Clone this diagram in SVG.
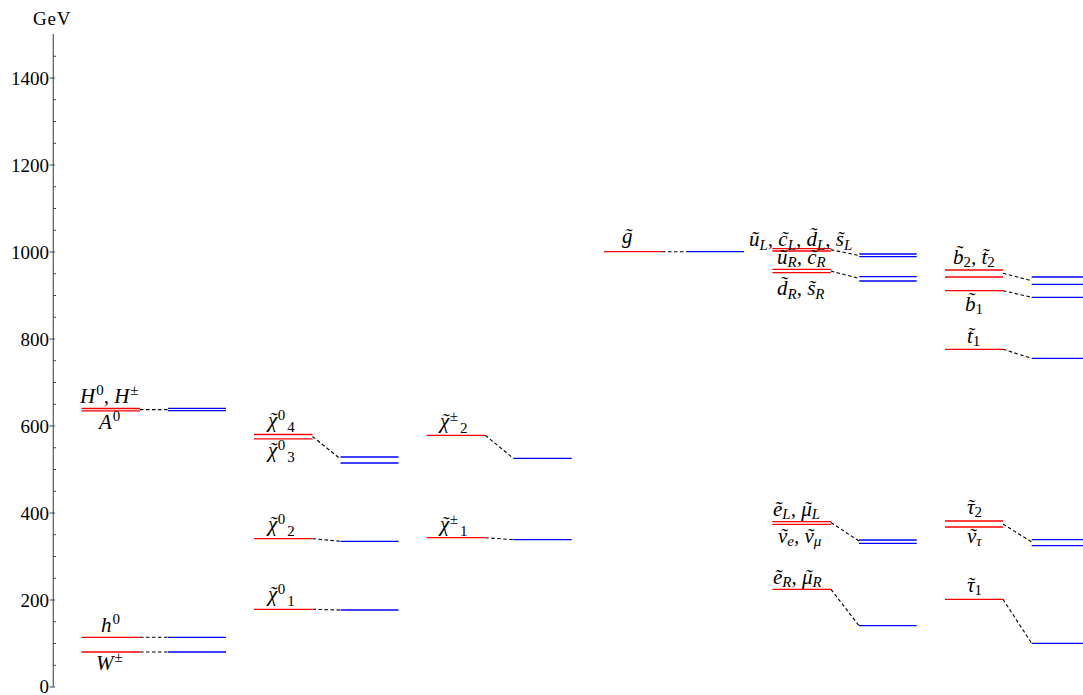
<svg xmlns="http://www.w3.org/2000/svg" width="1083" height="695" viewBox="0 0 1083 695">
<style>
.r{stroke:#ff0000;stroke-width:1.3;fill:none}
.b{stroke:#0000ff;stroke-width:1.3;fill:none}
.c{stroke:#000;stroke-width:1.1;stroke-dasharray:3.5 2.5;fill:none}
.ax{stroke:#666;stroke-width:1.3;fill:none}
.tk{stroke:#444;stroke-width:1;fill:none}
.num{font-family:"Liberation Serif","Times New Roman",serif;font-size:19px;fill:#000}
.lbl{font-family:"Liberation Serif","Times New Roman",serif;font-size:21px;font-style:italic;fill:#000}
.s{font-size:15px}
.n{font-style:normal}
</style>
<rect width="1083" height="695" fill="#fff"/>
<g id="axis">
<line class="ax" x1="53.3" y1="34" x2="53.3" y2="687"/>
<path class="tk" d="M49.5 687H55M49.5 600H55M49.5 513H55M49.5 426H55M49.5 339H55M49.5 252H55M49.5 165H55M49.5 78H55"/>
<path class="tk" d="M53 665.25H56M53 643.5H56M53 621.75H56M53 578.25H56M53 556.5H56M53 534.75H56M53 491.25H56M53 469.5H56M53 447.75H56M53 404.25H56M53 382.5H56M53 360.75H56M53 317.25H56M53 295.5H56M53 273.75H56M53 230.25H56M53 208.5H56M53 186.75H56M53 143.25H56M53 121.5H56M53 99.75H56M53 56.25H56"/>
<text class="num" x="33" y="25" style="font-size:19px;letter-spacing:0.8px">GeV</text>
<g text-anchor="end">
<text class="num" x="49" y="692.5">0</text>
<text class="num" x="49" y="606.5">200</text>
<text class="num" x="49" y="519.5">400</text>
<text class="num" x="49" y="432.5">600</text>
<text class="num" x="49" y="345.5">800</text>
<text class="num" x="49" y="258.5">1000</text>
<text class="num" x="49" y="171.5">1200</text>
<text class="num" x="49" y="84.5">1400</text>
</g>
</g>
<g id="connectors">
<line class="c" x1="140" y1="409.6" x2="168" y2="409.6"/>
<line class="c" x1="140" y1="637.3" x2="168" y2="637.3"/>
<line class="c" x1="140" y1="652" x2="168" y2="652"/>
<line class="c" x1="312.5" y1="436.5" x2="340.5" y2="459"/>
<line class="c" x1="312.5" y1="538.7" x2="340.5" y2="541.3"/>
<line class="c" x1="312.5" y1="609.3" x2="340.5" y2="610"/>
<line class="c" x1="485.3" y1="435.3" x2="513.3" y2="458.3"/>
<line class="c" x1="485.3" y1="537.7" x2="513.3" y2="539.7"/>
<line class="c" x1="662" y1="251.7" x2="687" y2="251.7"/>
<line class="c" x1="830.7" y1="249.7" x2="859.3" y2="255.5"/>
<line class="c" x1="830.7" y1="271" x2="859.3" y2="278.5"/>
<line class="c" x1="831" y1="522.5" x2="859" y2="541"/>
<line class="c" x1="831" y1="589.3" x2="859" y2="625.7"/>
<line class="c" x1="1003" y1="273.3" x2="1031.7" y2="280.7"/>
<line class="c" x1="1003" y1="290.7" x2="1031.7" y2="297.3"/>
<line class="c" x1="1003" y1="349.3" x2="1031.7" y2="358.3"/>
<line class="c" x1="1003" y1="524" x2="1031.7" y2="542"/>
<line class="c" x1="1003" y1="599.3" x2="1031.7" y2="643.3"/>
</g>
<g id="higgs-heavy">
<line class="r" x1="81.5" y1="408.5" x2="140" y2="408.5"/>
<line class="r" x1="81.5" y1="410.8" x2="140" y2="410.8"/>
<line class="b" x1="168" y1="408.3" x2="226" y2="408.3"/>
<line class="b" x1="168" y1="410.7" x2="226" y2="410.7"/>
<text class="lbl" x="80" y="403">H<tspan class="s n" dx="1" dy="-8">0</tspan><tspan dy="8">, H</tspan><tspan class="s n" dx="1" dy="-8">±</tspan></text>
<text class="lbl" x="99" y="429">A<tspan class="s n" dx="1" dy="-8">0</tspan></text>
</g>
<g id="h0">
<line class="r" x1="81.5" y1="637.3" x2="140" y2="637.3"/>
<line class="b" x1="168" y1="637.3" x2="226" y2="637.3"/>
<text class="lbl" x="101" y="631.5">h<tspan class="s n" dx="1" dy="-8">0</tspan></text>
</g>
<g id="W">
<line class="r" x1="81.5" y1="652" x2="140" y2="652"/>
<line class="b" x1="168" y1="652" x2="226" y2="652"/>
<text class="lbl" x="96" y="670">W<tspan class="s n" dx="1" dy="-8">±</tspan></text>
</g>
<g id="neutralino34">
<line class="r" x1="254" y1="434.5" x2="312.5" y2="434.5"/>
<line class="r" x1="254" y1="438.8" x2="312.5" y2="438.8"/>
<line class="b" x1="340.5" y1="457" x2="398.5" y2="457"/>
<line class="b" x1="340.5" y1="463" x2="398.5" y2="463"/>
<text class="lbl" x="268" y="427">χ<tspan dx="-8">˜</tspan><tspan class="s n" dx="1.5" dy="-7">0</tspan><tspan class="s n" dx="2" dy="12">4</tspan></text>
<text class="lbl" x="268" y="457">χ<tspan dx="-8">˜</tspan><tspan class="s n" dx="1.5" dy="-7">0</tspan><tspan class="s n" dx="2" dy="12">3</tspan></text>
</g>
<g id="neutralino2">
<line class="r" x1="254" y1="538.7" x2="312.5" y2="538.7"/>
<line class="b" x1="340.5" y1="541.3" x2="398.5" y2="541.3"/>
<text class="lbl" x="268" y="531">χ<tspan dx="-8">˜</tspan><tspan class="s n" dx="1.5" dy="-7">0</tspan><tspan class="s n" dx="2" dy="12">2</tspan></text>
</g>
<g id="neutralino1">
<line class="r" x1="254" y1="609.3" x2="312.5" y2="609.3"/>
<line class="b" x1="340.5" y1="610" x2="398.5" y2="610"/>
<text class="lbl" x="268" y="601">χ<tspan dx="-8">˜</tspan><tspan class="s n" dx="1.5" dy="-7">0</tspan><tspan class="s n" dx="2" dy="12">1</tspan></text>
</g>
<g id="chargino2">
<line class="r" x1="426.7" y1="435.3" x2="485.3" y2="435.3"/>
<line class="b" x1="513.3" y1="458.3" x2="571.7" y2="458.3"/>
<text class="lbl" x="440" y="428">χ<tspan dx="-8">˜</tspan><tspan class="s n" dx="1.5" dy="-7">±</tspan><tspan class="s n" dx="2" dy="12">2</tspan></text>
</g>
<g id="chargino1">
<line class="r" x1="426.7" y1="537.7" x2="485.3" y2="537.7"/>
<line class="b" x1="513.3" y1="539.7" x2="571.7" y2="539.7"/>
<text class="lbl" x="440" y="531">χ<tspan dx="-8">˜</tspan><tspan class="s n" dx="1.5" dy="-7">±</tspan><tspan class="s n" dx="2" dy="12">1</tspan></text>
</g>
<g id="gluino">
<line class="r" x1="604" y1="251.7" x2="662" y2="251.7"/>
<line class="b" x1="687" y1="251.7" x2="744" y2="251.7"/>
<text class="lbl" x="622" y="243">g̃</text>
</g>
<g id="squarkL">
<line class="r" x1="772.3" y1="248.7" x2="830.7" y2="248.7"/>
<line class="r" x1="772.3" y1="251" x2="830.7" y2="251"/>
<line class="b" x1="859.3" y1="254" x2="916.7" y2="254"/>
<line class="b" x1="859.3" y1="256.7" x2="916.7" y2="256.7"/>
<text class="lbl" x="749" y="246">ũ<tspan class="s" dy="4">L</tspan><tspan dy="-4">, c̃</tspan><tspan class="s" dy="4">L</tspan><tspan dy="-4">, d̃</tspan><tspan class="s" dy="4">L</tspan><tspan dy="-4">, s̃</tspan><tspan class="s" dy="4">L</tspan></text>
</g>
<g id="squarkR">
<line class="r" x1="772.3" y1="269.3" x2="830.7" y2="269.3"/>
<line class="r" x1="772.3" y1="272.7" x2="830.7" y2="272.7"/>
<line class="b" x1="859.3" y1="276.7" x2="916.7" y2="276.7"/>
<line class="b" x1="859.3" y1="281" x2="916.7" y2="281"/>
<text class="lbl" x="777" y="264">ũ<tspan class="s" dy="3">R</tspan><tspan dy="-3">, c̃</tspan><tspan class="s" dy="3">R</tspan></text>
<text class="lbl" x="777" y="295">d̃<tspan class="s" dy="4">R</tspan><tspan dy="-4">, s̃</tspan><tspan class="s" dy="4">R</tspan></text>
</g>
<g id="sbottom2-stop2">
<line class="r" x1="945" y1="270" x2="1003" y2="270"/>
<line class="r" x1="945" y1="277" x2="1003" y2="277"/>
<line class="b" x1="1031.7" y1="277" x2="1083" y2="277"/>
<line class="b" x1="1031.7" y1="284.3" x2="1083" y2="284.3"/>
<text class="lbl" x="953" y="264">b̃<tspan class="s n" dy="3">2</tspan><tspan dy="-3">, t̃</tspan><tspan class="s n" dy="3">2</tspan></text>
</g>
<g id="sbottom1">
<line class="r" x1="945" y1="290.7" x2="1003" y2="290.7"/>
<line class="b" x1="1031.7" y1="297.3" x2="1083" y2="297.3"/>
<text class="lbl" x="965" y="311">b̃<tspan class="s n" dy="3">1</tspan></text>
</g>
<g id="stop1">
<line class="r" x1="945" y1="349.3" x2="1003" y2="349.3"/>
<line class="b" x1="1031.7" y1="358.3" x2="1083" y2="358.3"/>
<text class="lbl" x="967" y="343">t̃<tspan class="s n" dy="3">1</tspan></text>
</g>
<g id="sleptonL">
<line class="r" x1="772.3" y1="521.7" x2="831" y2="521.7"/>
<line class="r" x1="772.3" y1="524.3" x2="831" y2="524.3"/>
<line class="b" x1="859" y1="540" x2="916.7" y2="540"/>
<line class="b" x1="859" y1="543.3" x2="916.7" y2="543.3"/>
<text class="lbl" x="773" y="516">ẽ<tspan class="s" dy="3">L</tspan><tspan dy="-3">, μ</tspan><tspan dx="-8">˜</tspan><tspan class="s" dx="1" dy="3">L</tspan></text>
<text class="lbl" x="778" y="543">ν<tspan dx="-7.5">˜</tspan><tspan class="s" dx="0.5" dy="3">e</tspan><tspan dy="-3">, ν</tspan><tspan dx="-7.5">˜</tspan><tspan class="s" dx="0.5" dy="3">μ</tspan></text>
</g>
<g id="sleptonR">
<line class="r" x1="772.3" y1="589.3" x2="831" y2="589.3"/>
<line class="b" x1="859" y1="625.7" x2="916.7" y2="625.7"/>
<text class="lbl" x="773" y="584">ẽ<tspan class="s" dy="3">R</tspan><tspan dy="-3">, μ</tspan><tspan dx="-8">˜</tspan><tspan class="s" dx="1" dy="3">R</tspan></text>
</g>
<g id="stau2">
<line class="r" x1="945" y1="521" x2="1003" y2="521"/>
<line class="r" x1="945" y1="527" x2="1003" y2="527"/>
<line class="b" x1="1031.7" y1="539.7" x2="1083" y2="539.7"/>
<line class="b" x1="1031.7" y1="545.7" x2="1083" y2="545.7"/>
<text class="lbl" x="967" y="514">τ<tspan dx="-7.5">˜</tspan><tspan class="s n" dx="0.5" dy="3">2</tspan></text>
<text class="lbl" x="967" y="543">ν<tspan dx="-7.5">˜</tspan><tspan class="s" dx="0.5" dy="3">τ</tspan></text>
</g>
<g id="stau1">
<line class="r" x1="945" y1="599.3" x2="1003" y2="599.3"/>
<line class="b" x1="1031.7" y1="643.3" x2="1083" y2="643.3"/>
<text class="lbl" x="967" y="592">τ<tspan dx="-7.5">˜</tspan><tspan class="s n" dx="0.5" dy="3">1</tspan></text>
</g>
</svg>
